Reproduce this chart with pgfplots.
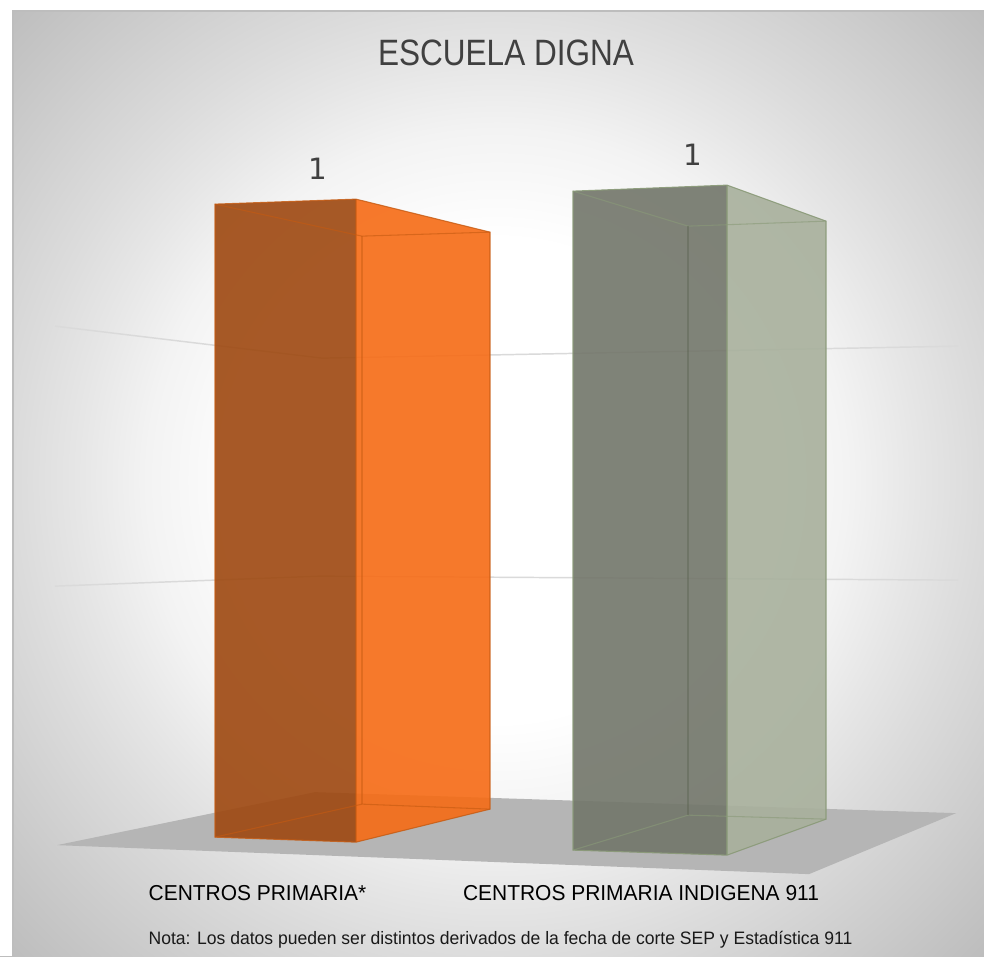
\documentclass[border=0pt]{standalone}
\usepackage{pgfplots}
\pgfplotsset{compat=1.18}
\usepackage{fontspec}
\setmainfont{Liberation Sans}
\newfontfamily\titlef[FakeStretch=0.86]{Liberation Sans}
\newfontfamily\catf[FakeStretch=0.97]{Liberation Sans}
\newfontfamily\notef[FakeStretch=0.975]{Liberation Sans}
\newfontfamily\numf{DejaVu Sans}
\definecolor{bggray}{HTML}{BDBDBD}
\definecolor{bgA}{HTML}{F3F3F3}
\definecolor{bgB}{HTML}{E6E6E6}
\definecolor{bgC}{HTML}{DCDCDC}
\definecolor{floorc}{HTML}{B5B5B5}
\definecolor{gridc}{HTML}{DADADA}
\definecolor{oL}{HTML}{9E4810}
\definecolor{oR}{HTML}{F66B15}
\definecolor{oE}{HTML}{C55A11}
\definecolor{gL}{HTML}{72766A}
\definecolor{gR}{HTML}{A8B09C}
\definecolor{gE}{HTML}{8A9A78}
\definecolor{txt}{HTML}{404040}
\pgfdeclareradialshading{bgshade}{\pgfpoint{0bp}{0bp}}{color(0bp)=(white); color(8.6bp)=(white); color(12.5bp)=(bgA); color(15bp)=(bgB); color(17.1bp)=(bgC); color(24.3bp)=(bggray); color(100bp)=(bggray)}
\begin{document}
\begin{tikzpicture}
\begin{axis}[
  x=0.75pt, y=0.75pt, y dir=reverse,
  xmin=0, xmax=984, ymin=0, ymax=956,
  axis line style={draw=none}, major tick length=0pt,
  ytick=\empty, xtick={257.5,641},
  xticklabels={CENTROS PRIMARIA*,CENTROS PRIMARIA INDIGENA 911},
  xticklabel style={anchor=center, yshift=47.5pt, font=\catf\fontsize{16.2}{18}\selectfont, text=black},
  axis on top=true,
]
% background
\shade[shading=bgshade] (axis cs:497,480) circle (525pt);
\fill[white] (axis cs:0,0) rectangle (axis cs:12,956);
\fill[white] (axis cs:0,0) rectangle (axis cs:984,10);
\fill[bggray] (axis cs:12,10) rectangle (axis cs:984,12);
\fill[bggray] (axis cs:12,10) rectangle (axis cs:14,956);
% gridlines
\addplot[gridc, line width=1.1pt] coordinates {(55,326) (322,358) (958,346)};
\addplot[gridc, line width=1.1pt] coordinates {(55,586) (320,576) (958,580)};
% floor
\addplot[fill=floorc, draw=none] coordinates {(57,845) (315,792) (956,813) (809,874)} --cycle;
% orange bar
\addplot[fill=oL, fill opacity=0.9, draw=none] coordinates {(215,204) (356,199) (356,842) (215,837)} --cycle;
\addplot[fill=oR, fill opacity=0.9, draw=none] coordinates {(356,199) (490,232) (490,809) (356,842)} --cycle;
\addplot[oE, line width=0.8pt, opacity=0.6] coordinates {(215,204) (362,236) (490,232)};
\addplot[oE, line width=0.8pt, opacity=0.6] coordinates {(215,837) (362,804) (490,809)};
\addplot[oE, line width=0.8pt, opacity=0.45] coordinates {(362,236) (362,804)};
\addplot[oE, line width=0.8pt, opacity=0.8] coordinates {(215,204) (356,199) (490,232) (490,809) (356,842) (215,837)} --cycle;
\addplot[oE, line width=0.8pt, opacity=0.5] coordinates {(356,199) (356,842)};
% green bar
\addplot[fill=gL, fill opacity=0.9, draw=none] coordinates {(573,191) (727,185) (727,855) (573,850)} --cycle;
\addplot[fill=gR, fill opacity=0.9, draw=none] coordinates {(727,185) (826,221) (826,819) (727,855)} --cycle;
\addplot[gE, line width=0.8pt, opacity=0.6] coordinates {(573,191) (688,226) (826,221)};
\addplot[gE, line width=0.8pt, opacity=0.6] coordinates {(573,850) (688,815) (826,819)};
\addplot[black!40!gE, line width=0.8pt, opacity=0.35] coordinates {(688,226) (688,815)};
\addplot[gE, line width=0.8pt, opacity=0.9] coordinates {(573,191) (727,185) (826,221) (826,819) (727,855) (573,850)} --cycle;
\addplot[gE, line width=0.8pt, opacity=0.7] coordinates {(727,185) (727,855)};
% texts
\node[text=txt, font=\titlef\fontsize{27.5}{30}\selectfont] at (axis cs:506,53) {ESCUELA DIGNA};
\node[text=txt, font=\numf\fontsize{22}{24}\selectfont] at (axis cs:318,169) {1};
\node[text=txt, font=\numf\fontsize{22}{24}\selectfont] at (axis cs:693,155) {1};
\node[text=black!90, font=\notef\fontsize{13.5}{15}\selectfont] at (axis cs:500.5,940) {Nota: Los datos pueden ser distintos derivados de la fecha de corte SEP y Estadística 911};
\end{axis}
\end{tikzpicture}
\end{document}
